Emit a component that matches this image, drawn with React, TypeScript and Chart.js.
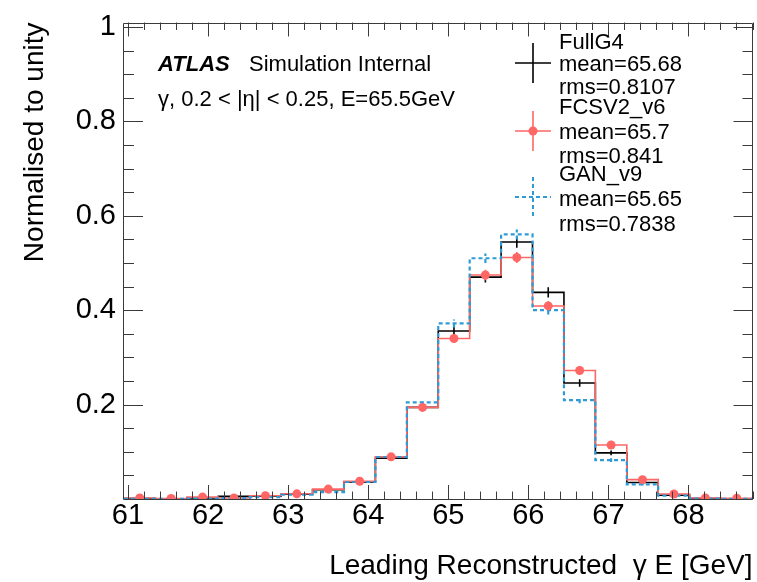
import React, { useEffect, useRef } from 'react';
import { Chart, registerables } from 'chart.js';

Chart.register(...registerables);

const FONT = '"Liberation Sans", Arial, Helvetica, sans-serif';
const BLACK = '#000000';
const RED = '#ff6666';
const BLUE = '#2f9bd6';
const FRAME = '#3a3a3a';

// 20 bins of the reconstructed photon energy [GeV]
const binEdges = [
  60.95, 61.3425, 61.735, 62.1275, 62.52, 62.9125, 63.305, 63.6975, 64.09, 64.4825, 64.875,
  65.2675, 65.66, 66.0525, 66.445, 66.8375, 67.23, 67.6225, 68.015, 68.4075, 68.8,
];

const fullG4 = [
  0.001, 0.0005, 0.002, 0.0055, 0.006, 0.01, 0.0195, 0.036, 0.0865, 0.194, 0.356, 0.47, 0.5445,
  0.4377, 0.2457, 0.0977, 0.035, 0.008, 0.001, 0.0005,
];
const fullG4Err = [
  0.0008, 0.0005, 0.001, 0.0012, 0.0013, 0.0016, 0.0023, 0.003, 0.0048, 0.0072, 0.0097, 0.0112,
  0.012, 0.0108, 0.0081, 0.0051, 0.0031, 0.0014, 0.0006, 0.0004,
];

const fcsv2 = [
  0.002, 0.001, 0.004, 0.002, 0.007, 0.011, 0.021, 0.0377, 0.0893, 0.194, 0.34, 0.4746, 0.5116,
  0.409, 0.2722, 0.1144, 0.041, 0.0105, 0.002, 0.0015,
];
const fcsv2Err = [
  0.0007, 0.0005, 0.001, 0.0007, 0.0013, 0.0017, 0.0023, 0.0031, 0.0048, 0.0071, 0.0094, 0.0111,
  0.0115, 0.0103, 0.0084, 0.0054, 0.0032, 0.0016, 0.0007, 0.0006,
];

const ganV9 = [
  0.0005, 0.0005, 0.001, 0.002, 0.004, 0.009, 0.0147, 0.036, 0.089, 0.2045, 0.372, 0.51, 0.5604,
  0.4, 0.2094, 0.0823, 0.031, 0.007, 0.001, 0.0005,
];
const ganV9Err = [
  0.0003, 0.0003, 0.0005, 0.0007, 0.0009, 0.0013, 0.0017, 0.0027, 0.0042, 0.0063, 0.0085, 0.01,
  0.0105, 0.0089, 0.0064, 0.004, 0.0025, 0.0012, 0.0004, 0.0003,
];

const xTickValues = [61, 62, 63, 64, 65, 66, 67, 68];
const xTickLabels = ['61', '62', '63', '64', '65', '66', '67', '68'];
const yTickValues = [0.2, 0.4, 0.6, 0.8, 1];
const yTickLabels = ['0.2', '0.4', '0.6', '0.8', '1'];

const legendNames = ['FullG4', 'FCSV2_v6', 'GAN_v9'];
const legendMeans = ['mean=65.68', 'mean=65.7', 'mean=65.65'];
const legendRms = ['rms=0.8107', 'rms=0.841', 'rms=0.7838'];

const X_MIN = 60.95;
const X_MAX = 68.8;
const Y_MAX = 1.0094;

const centers = binEdges.slice(0, -1).map((e, i) => (e + binEdges[i + 1]) / 2);

function stepData(vals: number[]) {
  return binEdges.map((e, i) => ({ x: e, y: vals[Math.min(i, vals.length - 1)] }));
}

function errData(vals: number[], errs: number[]) {
  const out: { x: number; y: number | null }[] = [];
  vals.forEach((v, i) => {
    out.push({ x: centers[i], y: v - errs[i] });
    out.push({ x: centers[i], y: v + errs[i] });
    out.push({ x: centers[i], y: null });
  });
  return out;
}

const overlayPlugin = {
  id: 'atlasOverlay',
  afterDraw(chart: any) {
    const { ctx, chartArea: a, scales } = chart;
    const xs = scales.x;
    const ys = scales.y;
    ctx.save();
    // frame
    ctx.strokeStyle = FRAME;
    ctx.lineWidth = 1;
    ctx.beginPath();
    ctx.rect(Math.round(a.left) - 0.5, Math.round(a.top) + 0.5, Math.round(a.right - a.left), Math.round(a.bottom - a.top) - 1);
    ctx.stroke();

    // x ticks (inward, top and bottom)
    ctx.beginPath();
    const nx0 = Math.ceil(X_MIN / 0.2 - 1e-6);
    const nx1 = Math.floor(X_MAX / 0.2 + 1e-6);
    for (let i = nx0; i <= nx1; i++) {
      const v = i * 0.2;
      const major = Math.abs(v - Math.round(v)) < 1e-6;
      const len = major ? 14 : 7.5;
      const px = Math.round(xs.getPixelForValue(v)) + 0.5;
      ctx.moveTo(px, a.bottom);
      ctx.lineTo(px, a.bottom - len);
      ctx.moveTo(px, a.top);
      ctx.lineTo(px, a.top + len);
    }
    // y ticks (inward, left and right)
    for (let i = 0; i <= Math.floor(Y_MAX / 0.05 + 1e-6); i++) {
      const v = i * 0.05;
      const major = i % 4 === 0;
      const len = major ? 19 : 10;
      const py = Math.round(ys.getPixelForValue(v)) + 0.5;
      ctx.moveTo(a.left, py);
      ctx.lineTo(a.left + len, py);
      ctx.moveTo(a.right, py);
      ctx.lineTo(a.right - len, py);
    }
    ctx.stroke();

    // ATLAS label
    ctx.fillStyle = '#000';
    ctx.textBaseline = 'middle';
    ctx.textAlign = 'left';
    ctx.font = `bold italic 22px ${FONT}`;
    ctx.fillText('ATLAS', 158, 65);
    ctx.font = `22px ${FONT}`;
    ctx.fillText('Simulation Internal', 249, 65);
    ctx.fillText('\u03b3, 0.2 < |\u03b7| < 0.25, E=65.5GeV', 158, 100);

    // legend
    const symX = 533;
    const textX = 559;
    const symY = [63, 131, 197];
    const lineYs = [
      [42.7, 65, 88],
      [108, 132.7, 156.7],
      [175, 200, 225],
    ];
    const colors = [BLACK, RED, BLUE];
    for (let k = 0; k < 3; k++) {
      ctx.strokeStyle = colors[k];
      ctx.lineWidth = k === 2 ? 2 : 1.6;
      ctx.setLineDash(k === 2 ? [4, 3] : []);
      ctx.beginPath();
      ctx.moveTo(symX - 18, symY[k]);
      ctx.lineTo(symX + 18, symY[k]);
      ctx.moveTo(symX, symY[k] - 20);
      ctx.lineTo(symX, symY[k] + 20);
      ctx.stroke();
      ctx.setLineDash([]);
      if (k === 1) {
        ctx.fillStyle = RED;
        ctx.beginPath();
        ctx.arc(symX, symY[k], 4.5, 0, Math.PI * 2);
        ctx.fill();
      }
      ctx.fillStyle = '#000';
      ctx.font = `22px ${FONT}`;
      ctx.fillText(legendNames[k], textX, lineYs[k][0]);
      ctx.fillText(legendMeans[k], textX, lineYs[k][1]);
      ctx.fillText(legendRms[k], textX, lineYs[k][2]);
    }
    ctx.restore();
  },
};

export default function App() {
  const ref = useRef<HTMLCanvasElement | null>(null);

  useEffect(() => {
    if (!ref.current) return;
    const chart = new Chart(ref.current, {
      type: 'scatter',
      data: {
        datasets: [
          {
            label: 'FullG4',
            data: stepData(fullG4),
            showLine: true,
            stepped: true,
            borderColor: BLACK,
            borderWidth: 1.6,
            pointRadius: 0,
            order: 6,
          },
          {
            label: 'FullG4 err',
            data: errData(fullG4, fullG4Err),
            showLine: true,
            spanGaps: false,
            borderColor: BLACK,
            borderWidth: 1.6,
            pointRadius: 0,
            order: 5,
          },
          {
            label: 'FCSV2_v6',
            data: stepData(fcsv2),
            showLine: true,
            stepped: true,
            borderColor: RED,
            borderWidth: 1.6,
            pointRadius: 0,
            order: 4,
          },
          {
            label: 'FCSV2_v6 err',
            data: errData(fcsv2, fcsv2Err),
            showLine: true,
            spanGaps: false,
            borderColor: RED,
            borderWidth: 1.6,
            pointRadius: 0,
            order: 3,
          },
          {
            label: 'GAN_v9',
            data: stepData(ganV9),
            showLine: true,
            stepped: true,
            borderColor: BLUE,
            borderWidth: 2.2,
            borderDash: [4, 3],
            pointRadius: 0,
            order: 2,
          },
          {
            label: 'GAN_v9 err',
            data: errData(ganV9, ganV9Err),
            showLine: true,
            spanGaps: false,
            borderColor: BLUE,
            borderWidth: 2.2,
            borderDash: [4, 3],
            pointRadius: 0,
            order: 1,
          },
          {
            label: 'FCSV2_v6 markers',
            data: fcsv2.map((v, i) => ({ x: centers[i], y: v })),
            showLine: false,
            pointRadius: 4.5,
            pointStyle: 'circle',
            backgroundColor: RED,
            borderWidth: 0,
            order: 0,
          },
        ],
      },
      options: {
        animation: false,
        responsive: false,
        devicePixelRatio: 1,
        layout: { padding: { top: 17, left: 0, right: -1, bottom: 0 } },
        plugins: { legend: { display: false }, tooltip: { enabled: false } },
        scales: {
          x: {
            type: 'linear',
            position: 'bottom',
            min: X_MIN,
            max: X_MAX,
            grid: { display: false, drawTicks: false },
            border: { display: false },
            afterBuildTicks: (s: any) => {
              s.ticks = xTickValues.map((v) => ({ value: v }));
            },
            afterFit: (s: any) => {
              s.height = 83;
            },
            ticks: {
              autoSkip: false,
              maxRotation: 0,
              padding: 2,
              color: '#000',
              font: { family: FONT, size: 29, lineHeight: 1 },
              callback: (_v: any, i: number) => xTickLabels[i],
            },
            title: {
              display: true,
              text: 'Leading Reconstructed  \u03b3 E [GeV]',
              align: 'end',
              color: '#000',
              font: { family: FONT, size: 28, lineHeight: 1 },
              padding: { top: 0, bottom: 2 },
            },
          },
          y: {
            type: 'linear',
            position: 'left',
            min: 0,
            max: Y_MAX,
            grid: { display: false, drawTicks: false },
            border: { display: false },
            afterBuildTicks: (s: any) => {
              s.ticks = yTickValues.map((v) => ({ value: v }));
            },
            afterFit: (s: any) => {
              s.width = 124;
            },
            ticks: {
              autoSkip: false,
              padding: 8,
              color: '#000',
              font: { family: FONT, size: 29, lineHeight: 1 },
              callback: (_v: any, i: number) => yTickLabels[i],
            },
            title: {
              display: true,
              text: 'Normalised to unity',
              align: 'end',
              color: '#000',
              font: { family: FONT, size: 28, lineHeight: 1 },
              padding: { top: 21, bottom: 0 },
            },
          },
        },
      },
      plugins: [overlayPlugin],
    } as any);
    return () => chart.destroy();
  }, []);

  return (
    <div style={{ position: 'absolute', left: 0, top: 0, width: 757, height: 582, background: '#fff' }}>
      <canvas ref={ref} width={757} height={582} style={{ display: 'block', width: 757, height: 582 }} />
    </div>
  );
}
